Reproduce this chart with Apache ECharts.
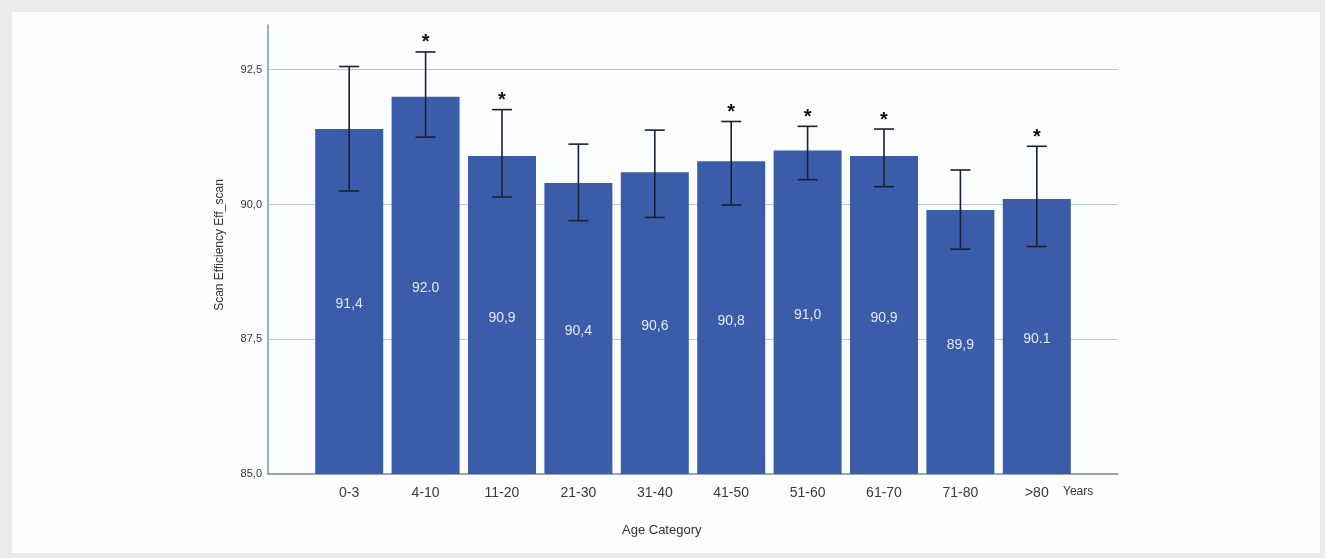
<!DOCTYPE html>
<html>
<head>
<meta charset="utf-8">
<script src="https://cdn.jsdelivr.net/npm/echarts@6/dist/echarts.min.js"></script>
<style>
  html, body { margin: 0; padding: 0; background: #ebebeb; }
  #panel { position: absolute; left: 12px; top: 12px; width: 1308px; height: 541px; background: #fcfdfe; }
  #chart { position: absolute; left: 0; top: 0; width: 1325px; height: 558px; }
</style>
</head>
<body>
<div id="panel"></div>
<div id="chart"></div>
<script>
const categories = ['0-3', '4-10', '11-20', '21-30', '31-40', '41-50', '51-60', '61-70', '71-80', '>80'];
const means = [91.4, 92.0, 90.9, 90.4, 90.6, 90.8, 91.0, 90.9, 89.9, 90.1];
const meanLabels = ['91,4', '92.0', '90,9', '90,4', '90,6', '90,8', '91,0', '90,9', '89,9', '90.1'];
const ciLower = [90.25, 91.25, 90.14, 89.70, 89.76, 89.99, 90.46, 90.33, 89.17, 89.22];
const ciUpper = [92.56, 92.83, 91.76, 91.12, 91.38, 91.54, 91.45, 91.40, 90.64, 91.08];
const significant = [0, 1, 1, 0, 0, 1, 1, 1, 0, 1];
const yTicks = [87.5, 90.0, 92.5];

const Y_MIN = 85, Y_MAX = 93.33;
const font = 'Liberation Sans, Arial, sans-serif';

const chart = echarts.init(document.getElementById('chart'), null, { renderer: 'canvas' });

const errData = categories.map((c, i) => [i, ciLower[i], ciUpper[i], significant[i]]);

chart.setOption({
  backgroundColor: 'transparent',
  animation: false,
  grid: [
    { left: 268, right: 207, top: 25, bottom: 84 },
    { left: 311, right: 250, top: 25, bottom: 84 }
  ],
  xAxis: [
    { type: 'value', gridIndex: 0, min: 0, max: 1, show: true,
      axisLine: { show: true, lineStyle: { color: '#7d8a90', width: 1.5 } },
      axisTick: { show: false }, axisLabel: { show: false }, splitLine: { show: false } },
    { type: 'category', gridIndex: 1, data: categories,
      axisLine: { show: false }, axisTick: { show: false },
      axisLabel: { color: '#3a3a3a', fontSize: 14, fontFamily: font, margin: 12 } }
  ],
  yAxis: [
    { type: 'value', gridIndex: 0, min: Y_MIN, max: Y_MAX, interval: 2.5,
      axisLine: { show: true, lineStyle: { color: '#7a9aaa', width: 1.5 } },
      axisTick: { show: false },
      splitLine: { show: false },
      axisLabel: { color: '#333', fontSize: 11, fontFamily: font, margin: 6, showMaxLabel: false,
        formatter: v => (Math.abs(v - Y_MAX) < 0.01 ? '' : v.toFixed(1).replace('.', ',')) } },
    { type: 'value', gridIndex: 1, min: Y_MIN, max: Y_MAX, show: false }
  ],
  series: [
    { type: 'line', xAxisIndex: 0, yAxisIndex: 0, data: [], z: 0,
      markLine: { silent: true, symbol: 'none', z: 0, label: { show: false },
        lineStyle: { color: '#b3cad6', width: 1, type: 'solid' },
        data: yTicks.map(v => ({ yAxis: v })) } },
    { type: 'bar', xAxisIndex: 1, yAxisIndex: 1, data: means, barWidth: 68, z: 3,
      itemStyle: { color: '#3b5ca9' },
      label: { show: true, position: 'inside', offset: [0, 3], color: '#e6e8f2', fontSize: 14, fontFamily: font,
        formatter: p => meanLabels[p.dataIndex] } },
    { type: 'custom', xAxisIndex: 1, yAxisIndex: 1, data: errData, z: 6,
      renderItem: (params, api) => {
        const x = api.coord([api.value(0), api.value(1)])[0];
        const yLo = api.coord([api.value(0), api.value(1)])[1];
        const yHi = api.coord([api.value(0), api.value(2)])[1];
        const hw = 10;
        const st = { stroke: '#1b1f33', lineWidth: 1.6 };
        const children = [
          { type: 'line', shape: { x1: x, y1: yLo, x2: x, y2: yHi }, style: st },
          { type: 'line', shape: { x1: x - hw, y1: yLo, x2: x + hw, y2: yLo }, style: st },
          { type: 'line', shape: { x1: x - hw, y1: yHi, x2: x + hw, y2: yHi }, style: st }
        ];
        if (api.value(3)) {
          children.push({ type: 'text', style: { text: '*', x: x, y: yHi - 9, align: 'center', verticalAlign: 'middle',
            fill: '#111', font: 'bold 20px ' + font } });
        }
        return { type: 'group', children: children };
      } }
  ],
  graphic: [
    { type: 'text', left: 1063, top: 486, style: { text: 'Years', fill: '#333', font: '12px ' + font } },
    { type: 'text', left: 622, top: 524, style: { text: 'Age Category', fill: '#333', font: '13px ' + font } },
    { type: 'text', x: 220, y: 245, rotation: Math.PI / 2,
      style: { text: 'Scan Efficiency Eff_scan', fill: '#333', font: '12px ' + font, align: 'center', verticalAlign: 'middle' } }
  ]
});
</script>
</body>
</html>
